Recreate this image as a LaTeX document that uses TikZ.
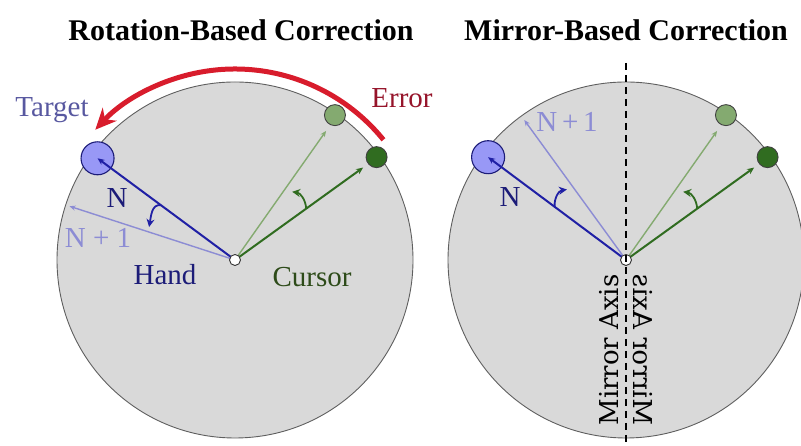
\documentclass[tikz,border=0pt]{standalone}
\usepackage{fontspec}
\setmainfont{Liberation Serif}
\newfontfamily\axisfont{DejaVu Serif}
\usetikzlibrary{positioning,arrows.meta,calc}
\definecolor{DiskGray}{RGB}{217,217,217}
\definecolor{RimGray}{RGB}{95,95,95}
\definecolor{HandBlue}{RGB}{32,32,165}
\definecolor{HandText}{RGB}{28,28,120}
\definecolor{NextBlue}{RGB}{140,140,212}
\definecolor{TargetFill}{RGB}{152,152,246}
\definecolor{TargetText}{RGB}{88,88,160}
\definecolor{CursorDark}{RGB}{48,108,32}
\definecolor{CursorLight}{RGB}{132,170,112}
\definecolor{CursorText}{RGB}{45,75,25}
\definecolor{ErrorRed}{RGB}{216,28,44}
\definecolor{ErrorText}{RGB}{150,20,42}
\tikzset{
  disk/.style={draw=RimGray,fill=DiskGray,line width=0.9pt},
  hub/.style={circle,draw=black!80,fill=white,line width=0.9pt,
    minimum size=11pt,inner sep=0pt},
  targetdot/.style={circle,draw=HandText,fill=TargetFill,line width=1.1pt,
    minimum size=33pt,inner sep=0pt},
  cursordot/.style={circle,draw=black!75,line width=0.9pt,
    minimum size=21pt,inner sep=0pt},
  handline/.style={-{Stealth[length=7pt,width=6pt]},line width=2pt,draw=HandBlue},
  nextline/.style={-{Stealth[length=6pt,width=5pt]},line width=1.4pt,draw=NextBlue},
  cursorline/.style={-{Stealth[length=7pt,width=6pt]},line width=2pt,draw=CursorDark},
  shownline/.style={-{Stealth[length=6pt,width=5pt]},line width=1.4pt,draw=CursorLight},
  handturn/.style={-{Stealth[length=8pt,width=8pt]},line width=1.8pt,draw=HandBlue},
  cursorturn/.style={-{Stealth[length=8pt,width=8pt]},line width=1.8pt,draw=CursorDark},
  errarc/.style={-{Stealth[length=21pt,width=19pt]},line width=5pt,draw=ErrorRed},
  axis/.style={dashed,dash pattern=on 7pt off 5pt,line width=1.4pt,draw=black},
  title/.style={font=\bfseries\fontsize{30}{34}\selectfont},
  lbl/.style={font=\fontsize{29}{32}\selectfont,inner sep=0pt},
  axislbl/.style={font=\axisfont\fontsize{26}{30}\selectfont,inner sep=0pt}
}

\begin{document}
\begin{tikzpicture}[x=1pt,y=1pt]
  \useasboundingbox (0,0) rectangle (801,446);
  \coordinate (lc) at (235,186);
  \coordinate (rc) at (626,186);

  % rotation-based correction
  \node[title] (ltitle) at (241,416) {Rotation-Based Correction};
  \draw[disk] (lc) circle[radius=178];
  \node[targetdot] (ltarget) at ($(lc)+(143.5:171)$) {};
  \node[cursordot,fill=CursorLight] (lshown) at ($(lc)+(55.4:176)$) {};
  \node[cursordot,fill=CursorDark] (lcursor) at ($(lc)+(36:175)$) {};
  \coordinate (lnext) at ($(lc)+(162:174)$);
  \coordinate (lshowtip) at ($(lc)+(54.8:158)$);
  \coordinate (lcurtip) at ($(lc)+(35.8:158)$);
  \draw[nextline] (lc) -- (lnext);
  \draw[handline] (lc) -- (ltarget.center);
  \draw[shownline] (lc) -- (lshowtip);
  \draw[cursorline] (lc) -- (lcurtip);
  \draw[handturn] ($(lc)+(143.5:92)$) to[out=168,in=80] ($(lc)+(159:92)$);
  \draw[cursorturn] ($(lc)+(36:88)$) to[out=95,in=-8] ($(lc)+(50:89)$);
  \node[hub] (lhub) at (lc) {};
  \coordinate (errfrom) at ($(lc)+(39:191)$);
  \draw[errarc] (errfrom) arc[start angle=39,end angle=137,radius=191];

  \node[lbl,text=TargetText] (ltargetlbl) at (52,336) {Target};
  \node[lbl,text=ErrorText] (errlbl) at (402,348) {Error};
  \node[lbl,text=HandText] (lnlbl) at (117,248) {N};
  \node[lbl,text=NextBlue] (lnextlbl) at (98,208) {N + 1};
  \node[lbl,text=HandText] (handlbl) at (165,171) {Hand};
  \node[lbl,text=CursorText] (cursorlbl) at (312,169) {Cursor};

  % mirror-based correction
  \node[title] (rtitle) at (626,416) {Mirror-Based Correction};
  \draw[disk] (rc) circle[radius=178];
  \node[targetdot] (rtarget) at ($(rc)+(143.3:172)$) {};
  \node[cursordot,fill=CursorLight] (rshown) at ($(rc)+(55.4:176)$) {};
  \node[cursordot,fill=CursorDark] (rcursor) at ($(rc)+(36:175)$) {};
  \coordinate (rnext) at ($(rc)+(126:173)$);
  \coordinate (rshowtip) at ($(rc)+(54.8:158)$);
  \coordinate (rcurtip) at ($(rc)+(35.8:158)$);
  \draw[nextline] (rc) -- (rnext);
  \draw[handline] (rc) -- (rtarget.center);
  \draw[shownline] (rc) -- (rshowtip);
  \draw[cursorline] (rc) -- (rcurtip);
  \draw[handturn] ($(rc)+(143.3:89)$) to[out=95,in=188] ($(rc)+(130:92)$);
  \draw[cursorturn] ($(rc)+(36:88)$) to[out=95,in=-8] ($(rc)+(50:89)$);
  \node[hub] (rhub) at (rc) {};
  \coordinate (axtop) at (626,383);
  \coordinate (axbot) at (626,0);
  \draw[axis] (axtop) -- (axbot);

  \node[lbl,text=NextBlue] (rnextlbl) at (567,324) {N\,+\,1};
  \node[lbl,text=HandText] (rnlbl) at (510,249) {N};
  \node[axislbl,rotate=90] (axislbl) at (609,96) {Mirror Axis};
  \node[axislbl,rotate=90,yscale=-1] (axismirror) at (643,96) {Mirror Axis};
\end{tikzpicture}
\end{document}
